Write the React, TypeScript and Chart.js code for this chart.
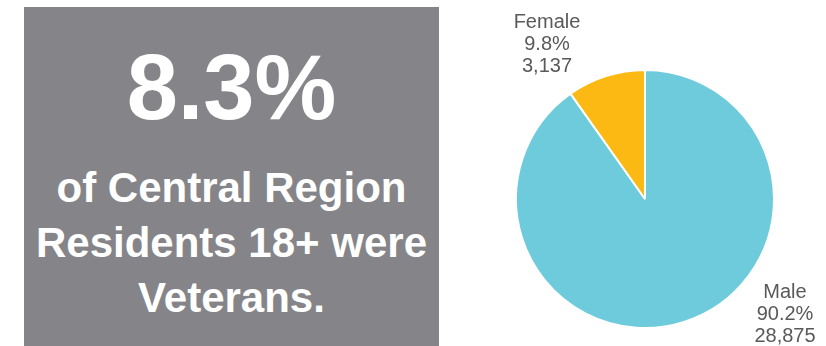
import React, { useEffect, useRef } from "react";
import { Chart, registerables } from "chart.js";

Chart.register(...registerables);

// ---- data ----
const categories = ["Male", "Female"];
const counts = [28875, 3137];
const sliceColors = ["#6ECBDC", "#FDB913"];
const headline = "8.3%";
const captionLines = ["of Central Region", "Residents 18+ were", "Veterans."];

// ---- label placement (relative to pie centre; style only) ----
const labelAnchors: Record<string, { dx: number; dy: number }> = {
  Male: { dx: 140, dy: 99 },
  Female: { dx: -98, dy: -171 },
};

const FONT = "'Liberation Sans', Arial, Helvetica, sans-serif";

const labelPlugin = {
  id: "sliceLabels",
  afterDraw(chart: any) {
    const meta = chart.getDatasetMeta(0);
    const arc = meta.data[0];
    if (!arc) return;
    const cx = arc.x;
    const cy = arc.y;
    const ctx = chart.ctx;
    const data: number[] = chart.data.datasets[0].data;
    const total = data.reduce((a, b) => a + b, 0);
    ctx.save();
    ctx.fillStyle = "#595959";
    ctx.font = `20px ${FONT}`;
    ctx.textAlign = "center";
    ctx.textBaseline = "alphabetic";
    chart.data.labels.forEach((lab: string, i: number) => {
      const a = labelAnchors[lab];
      if (!a) return;
      const pct = ((data[i] / total) * 100).toFixed(1) + "%";
      const cnt = data[i].toLocaleString("en-US");
      const x = cx + a.dx;
      const y = cy + a.dy;
      ctx.fillText(lab, x, y);
      ctx.fillText(pct, x, y + 22);
      ctx.fillText(cnt, x, y + 44);
    });
    ctx.restore();
  },
};

export default function App() {
  const canvasRef = useRef<HTMLCanvasElement | null>(null);

  useEffect(() => {
    if (!canvasRef.current) return;
    const chart = new Chart(canvasRef.current, {
      type: "pie",
      data: {
        labels: categories,
        datasets: [
          {
            data: counts,
            backgroundColor: sliceColors,
            borderColor: "#ffffff",
            borderWidth: 2,
          },
        ],
      },
      options: {
        responsive: false,
        animation: false,
        rotation: 0,
        layout: { padding: { top: 69, bottom: 17, left: 55, right: 51 } },
        plugins: {
          legend: { display: false },
          tooltip: { enabled: false },
        },
      },
      plugins: [labelPlugin],
    });
    return () => chart.destroy();
  }, []);

  return (
    <div
      style={{
        position: "fixed",
        left: 0,
        top: 0,
        width: 826,
        height: 346,
        background: "#ffffff",
        overflow: "hidden",
        fontFamily: FONT,
      }}
    >
      <div
        style={{
          position: "absolute",
          left: 24,
          top: 7,
          width: 415,
          height: 339,
          background: "#858589",
          color: "#ffffff",
          fontWeight: "bold",
          textAlign: "center",
        }}
      >
        <div
          style={{
            position: "absolute",
            left: 0,
            right: 0,
            top: 34,
            fontSize: 92,
            lineHeight: "92px",
          }}
        >
          {headline}
        </div>
        <div
          style={{
            position: "absolute",
            left: 0,
            right: 0,
            top: 153,
            fontSize: 42,
            lineHeight: "55px",
          }}
        >
          {captionLines.map((l, i) => (
            <div key={i}>{l}</div>
          ))}
        </div>
      </div>
      <canvas
        ref={canvasRef}
        width={366}
        height={346}
        style={{ position: "absolute", left: 460, top: 0, width: 366, height: 346 }}
      />
    </div>
  );
}
